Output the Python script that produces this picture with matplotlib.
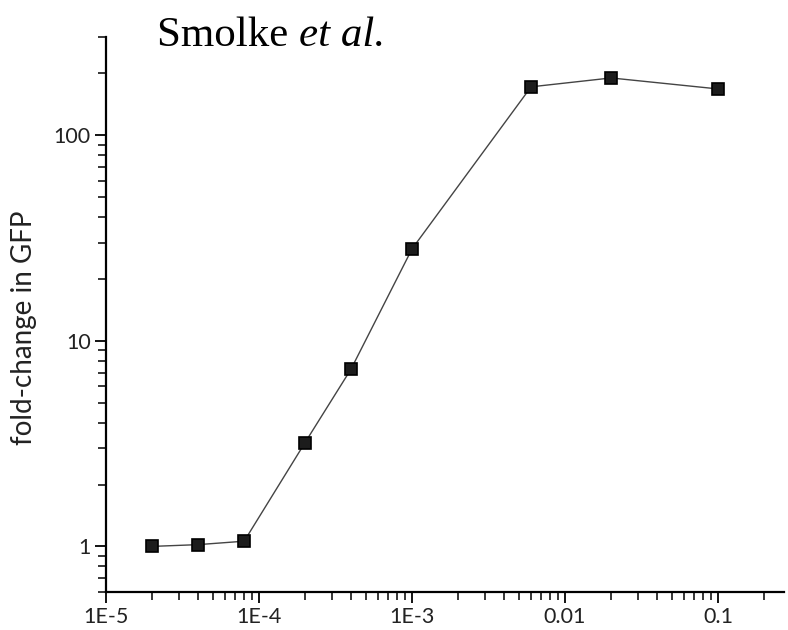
import numpy as np
import matplotlib
matplotlib.use('Agg')
import matplotlib.pyplot as plt
from matplotlib.ticker import LogLocator, FixedLocator, NullFormatter

# theophylline concentration (M) vs fold-change in GFP
concentration = [2e-5, 4e-5, 8e-5, 2e-4, 4e-4, 1e-3, 6e-3, 2e-2, 1e-1]
fold_change = [1.0, 1.02, 1.06, 3.2, 7.3, 28.0, 172.0, 190.0, 168.0]

x_ticks = [1e-5, 1e-4, 1e-3, 1e-2, 1e-1]
x_tick_labels = ['1E-5', '1E-4', '1E-3', '0.01', '0.1']
y_ticks = [1, 10, 100]
y_tick_labels = ['1', '10', '100']

SANS = 'Lato'

fig = plt.figure(figsize=(7.88, 6.3), dpi=100)
ax = fig.add_axes([0.1345, 0.0603, 0.8605, 0.8807])

ax.plot(concentration, fold_change, color='#444444', linewidth=1.0,
        marker='s', markersize=8.5, markerfacecolor='#1c1c1c',
        markeredgecolor='black', markeredgewidth=1.2)

ax.set_xscale('log')
ax.set_yscale('log')
ax.set_xlim(1e-5, 2.7e-1)
ax.set_ylim(0.6, 300)

ax.xaxis.set_major_locator(FixedLocator(x_ticks))
ax.set_xticklabels(x_tick_labels)
ax.xaxis.set_minor_locator(LogLocator(base=10, subs=np.arange(2, 10)))
ax.xaxis.set_minor_formatter(NullFormatter())

ax.yaxis.set_major_locator(FixedLocator(y_ticks))
ax.set_yticklabels(y_tick_labels)
ax.yaxis.set_minor_locator(LogLocator(base=10, subs=np.arange(2, 10)))
ax.yaxis.set_minor_formatter(NullFormatter())

for side in ['top', 'right']:
    ax.spines[side].set_visible(False)
for side in ['left', 'bottom']:
    ax.spines[side].set_linewidth(1.6)

ax.tick_params(which='major', direction='out', length=8, width=1.3,
               labelsize=15.5, pad=3, labelcolor='#222222')
ax.tick_params(which='minor', direction='out', length=6, width=1.1)
for lbl in ax.get_xticklabels() + ax.get_yticklabels():
    lbl.set_family(SANS)

ax.set_ylabel('fold-change in GFP', fontsize=20, family=SANS, color='#222222')
ax.yaxis.set_label_coords(-0.102, 0.477)

t1 = fig.text(0.199, 0.927, 'Smolke ', family='Liberation Serif',
              fontsize=31, va='baseline')
ax.annotate('et al.', xy=(1, 0), xycoords=t1, va='bottom',
            family='Liberation Serif', style='italic', fontsize=31)

fig.savefig('out.png', dpi=100)
